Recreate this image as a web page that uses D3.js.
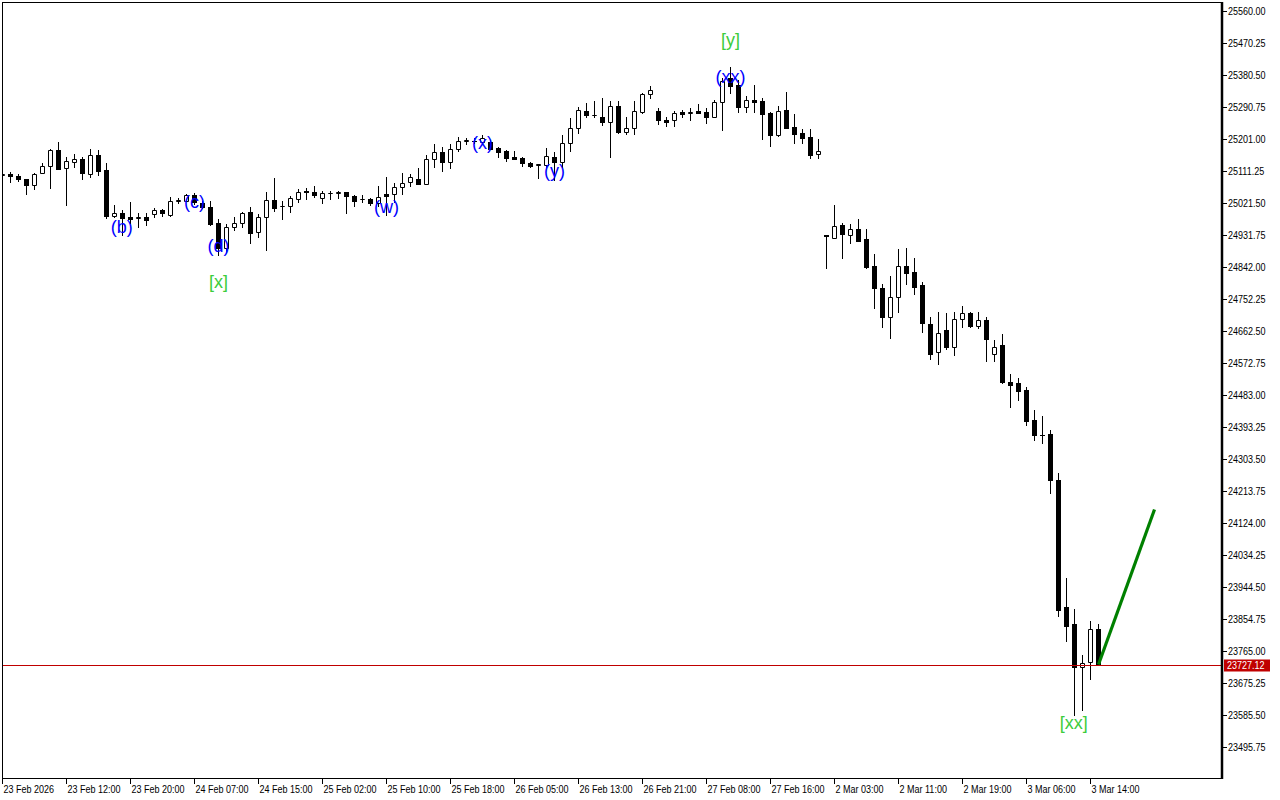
<!DOCTYPE html>
<html><head><meta charset="utf-8">
<script src="https://cdn.jsdelivr.net/npm/d3@7"></script>
<style>html,body{margin:0;padding:0;background:#fff;overflow:hidden}svg{display:block}</style>
</head><body>
<svg id="chart" width="1280" height="800"></svg>
<script>
// ---- data (hourly bars, 23 Feb 2026 .. 3 Mar 2026 15:00) ----
const open = [
25100,25103,25096.4,25088,25071,25106.5,25124.4,25170.1,25118.8,25137.3,
25144.1,25103.7,25156.1,25113.2,24984.2,24992.6,24982.2,24980.3,24982.2,24989.8,
25001,24988.7,25028,25028,25043.1,25020.7,25009.4,24964.6,24894.4,24955,
24964.6,24995.4,24939.3,24981.4,25029.9,25013.1,25013.1,25031.9,25056,25053.2,
25034.7,25048.7,25050.4,25051.5,25040.3,25032.7,25031.9,25020.7,25045.9,25046.7,
25066.4,25079.6,25088.8,25075.6,25144.1,25163.7,25137.3,25172.1,25196.2,25196.2,
25193.4,25193.4,25174.9,25167.3,25150.5,25147.7,25133.7,25128.9,25128.9,25149.7,
25137.3,25188.9,25231,25280.4,25267.5,25263.5,25249.5,25293.6,25221.5,25231,
25275.9,25326.4,25279.5,25254.3,25253.4,25275.9,25274.8,25279.5,25275.9,25263.5,
25303.9,25371.2,25352.5,25291.6,25309.5,25307.6,25274.8,25212.2,25282.3,25233.8,
25218.7,25206.6,25158.1,24931.8,24924.2,24959.8,24931.8,24948.6,24920.5,24844.8,
24782.3,24702.6,24757,24844.8,24827.1,24791.5,24682.1,24602.8,24665.3,24618.5,
24695.3,24712.1,24677.4,24693.3,24597.1,24623.2,24519.5,24515.8,24497,24412.9,
24372.2,24373.6,24244.6,23887.6,23840.7,23719.3,23733.3,23825.9];
const high = [
25106,25109.3,25102,25090,25106,25134.5,25173,25192.6,25151.4,25158.1,
25151.4,25172.1,25170.1,25132.8,25015,25001.9,25024.3,24992.6,24994.3,25006.6,
25005.5,25037.5,25034.7,25045.9,25050.4,25027.1,25027.1,24975.8,24961.8,24983.1,
24997.1,25009.4,24989.8,25052.4,25091.6,25027.1,25041.1,25059.9,25062.7,25069.2,
25054.3,25056,25055.2,25053,25043.1,25043.1,25034.7,25069.2,25094.4,25078.4,
25104.8,25102,25118.8,25156.1,25187,25177.7,25187,25207.5,25204.6,25203.8,
25211.4,25198.2,25177.7,25169,25167.3,25149.7,25135.6,25130.5,25174.9,25165.4,
25212.2,25259,25289.9,25301.1,25307.6,25315.2,25307.6,25307.6,25261.9,25307.6,
25329.2,25349.6,25287.1,25263.5,25279.5,25282.3,25287.1,25299.2,25287.1,25310.4,
25371.2,25403.8,25366.5,25322.4,25352.5,25315.2,25277.6,25294.4,25332,25270.3,
25229,25229,25201,24933,25015.9,24964.6,24961.8,24976.6,24948.6,24877.6,
24793.5,24816.8,24892.5,24896.1,24866.4,24799.1,24700.9,24714.9,24713.8,24714.9,
24732.6,24714.9,24716.6,24700.4,24637.3,24654.1,24541.9,24529.8,24504.6,24440.9,
24424.1,24384.8,24263.4,23968.9,23882,23753.8,23849.1,23840.7];
const low = [
25097,25081.2,25084,25045.9,25061.6,25105,25064.4,25116,25016.7,25123.3,
25089.6,25094.4,25100,24978.6,24981.4,24930.9,24966.2,24953.3,24960.6,24983.1,
24984.2,24985,25020.7,25026,25018.7,25007.5,24959.8,24875.7,24884.9,24945.8,
24953.3,24910.2,24927,24889.7,24998.2,24976.6,24996.3,25023.5,25033.6,25038.3,
25022.3,25033.6,25035.5,24994.3,25013.9,25023.5,25016.7,25013.1,24987.8,25025.1,
25046.7,25070,25073.9,25074,25123.3,25112.1,25120.5,25167.3,25187.8,25189.8,
25190.6,25173,25149.7,25140.1,25145,25126.1,25122.5,25092.5,25123.3,25086,
25123.3,25168.2,25218.7,25263.5,25263.5,25240.3,25151.4,25218.7,25215,25215,
25273.1,25316.8,25243.1,25238.3,25238.3,25263.5,25254.3,25273.5,25245,25262,
25226.2,25329.2,25275.9,25275.9,25275.9,25201,25182.2,25210.3,25231,25188.9,
25188.9,25148.6,25148.6,24838.4,24923,24868.1,24908.5,24915.8,24840,24726.2,
24672.9,24643.7,24716.6,24793.5,24767.1,24658.8,24583.1,24569.1,24612,24595.2,
24674.6,24674.6,24671.8,24579.2,24579.2,24517.5,24450.2,24469,24398.9,24356.8,
24349.2,24209,23863.2,23793.9,23585.5,23599.5,23687.3,23725];
const close = [
25103,25097.2,25088,25071.1,25104,25125.3,25170.1,25117.7,25138.5,25144.1,
25104.8,25156.1,25112.1,24985,24992.6,24980.3,24975.8,24981,24973,25001,
24992.6,25026.3,25029,25043.1,25025.1,25009.4,24962.6,24894.4,24955,24964.6,
24992.6,24938.2,24981.4,25029.9,25008.3,25014,25034.7,25052.4,25052.4,25043.1,
25048.7,25049.5,25051,25040.3,25028,25033.5,25020.7,25039.2,25040.3,25067.2,
25076.8,25093.6,25075.6,25144.1,25163.7,25137.3,25172.1,25196.2,25197,25196,
25204.6,25173.8,25165.4,25148.6,25145.7,25134.5,25125.3,25129.5,25152.5,25137.3,
25188.9,25231,25282.3,25269.2,25268,25249.5,25293.6,25221.5,25231,25279.5,
25327.2,25337.6,25253.4,25249.5,25273.1,25270.3,25275.5,25274.8,25263.5,25303.9,
25363.7,25350.5,25291.6,25309.5,25303.9,25272,25212.2,25279.5,25232.7,25215.9,
25204.6,25156.1,25167.3,24928.1,24957.8,24933.7,24948.6,24916,24842.8,24782.3,
24702.6,24757,24844.8,24826,24786.7,24684.1,24598.8,24656.9,24618.5,24695.3,
24712.1,24677.4,24692.5,24640.9,24618.5,24519,24510.2,24495.1,24410.9,24371.6,
24371,24244.6,23880,23836,23721,23730.5,23825.9,23727.12];

const xTickLabels = ["23 Feb 2026","23 Feb 12:00","23 Feb 20:00","24 Feb 07:00","24 Feb 15:00",
  "25 Feb 02:00","25 Feb 10:00","25 Feb 18:00","26 Feb 05:00","26 Feb 13:00","26 Feb 21:00",
  "27 Feb 08:00","27 Feb 16:00","2 Mar 03:00","2 Mar 11:00","2 Mar 19:00","3 Mar 06:00","3 Mar 14:00"];
const xTickBars = [0,8,16,24,32,40,48,56,64,72,80,88,96,104,112,120,128,136];

const yTickLabels = ["25560.00","25470.25","25380.50","25290.75","25201.00","25111.25","25021.50",
  "24931.75","24842.00","24752.25","24662.50","24572.75","24483.00","24393.25","24303.50",
  "24213.75","24124.00","24034.25","23944.50","23854.75","23765.00","23675.25","23585.50","23495.75"];

const waveText   = ["[y]","(xx)","(x)","(y)","(w)","(b)","(c)","(d)","[x]","[xx]"];
const waveBar    = [91, 91, 60, 69, 48, 14.9, 24, 27, 27, 133.9];
const wavePrice  = [25478, 25376, 25189, 25110, 25010, 24955, 25023, 24900, 24800, 23563];
const waveDegree = ["major","minor","minor","minor","minor","minor","minor","minor","major","major"];

const lastPrice = 23727.12;
const forecastBars = [137, 144];
const forecastPrices = [23727.12, 24162];

// ---- drawing ----
const svg = d3.select("#chart");
const L = 2, R = 1221, T = 2, B = 778;
const x = d3.scaleLinear().domain([0, 152]).range([2.5, 1218.5]);
const y = d3.scaleLinear().domain([23495.75, 25560]).range([747, 11]);
const axisFont = "'Liberation Sans',Arial,sans-serif";
const squeeze = 0.82;

function axisText(g, tx, ty, str, color) {
  return g.append("text")
    .attr("transform", `translate(${tx},${ty}) scale(${squeeze},1)`)
    .attr("dominant-baseline","central")
    .attr("font-family",axisFont).attr("font-size",11).attr("fill",color).text(str);
}

const plot = svg.append("g");
svg.append("defs").append("clipPath").attr("id","clip")
  .append("rect").attr("x",L).attr("y",T).attr("width",R-L).attr("height",B-T);
plot.attr("clip-path","url(#clip)");

const bars = d3.range(open.length);
const px = v => Math.round(y(v));

// wicks
plot.selectAll("line.wick").data(bars).enter().append("line")
  .attr("class","wick")
  .attr("x1", i => x(i)).attr("x2", i => x(i))
  .attr("y1", i => px(high[i]))
  .attr("y2", i => px(low[i]) + 1)
  .attr("stroke","#000").attr("stroke-width",1).attr("shape-rendering","crispEdges");

// bodies
plot.selectAll("path.body").data(bars).enter().append("path")
  .attr("class","body")
  .attr("d", i => {
    const cx = x(i);
    const top = px(Math.max(open[i], close[i]));
    const bot = px(Math.min(open[i], close[i]));
    if (close[i] >= open[i]) {
      const x0 = cx - 2, x1 = cx + 2;
      return `M${x0},${top+0.5}H${x1}V${bot+0.5}H${x0}Z`;
    } else {
      const x0 = cx - 2.5, x1 = cx + 2.5;
      return `M${x0},${top}H${x1}V${bot+1}H${x0}Z`;
    }
  })
  .attr("fill", i => close[i] >= open[i] ? "#fff" : "#000")
  .attr("stroke", i => close[i] >= open[i] ? "#000" : "none")
  .attr("stroke-width",1);

// current price line
const yp = px(lastPrice) + 0.5;
svg.append("line").attr("x1",L).attr("x2",R).attr("y1",yp).attr("y2",yp)
  .attr("stroke","#c00000").attr("stroke-width",1);

// forecast line
plot.append("line")
  .attr("x1", x(forecastBars[0])).attr("y1", y(forecastPrices[0]))
  .attr("x2", x(forecastBars[1])).attr("y2", y(forecastPrices[1]))
  .attr("stroke","#008000").attr("stroke-width",3.2).attr("stroke-linecap","butt");

// wave labels
const degColor = {major:"#3ccc3c", minor:"#0000ff"};
svg.selectAll("text.wave").data(waveText).enter().append("text")
  .attr("class","wave")
  .attr("x",(d,i)=>x(waveBar[i]))
  .attr("y",(d,i)=>y(wavePrice[i]))
  .attr("text-anchor","middle").attr("dominant-baseline","central")
  .attr("font-family","'Liberation Sans',Arial,sans-serif").attr("font-size",18)
  .attr("fill",(d,i)=>degColor[waveDegree[i]])
  .text(d=>d);

// frame
svg.append("rect").attr("x",L+0.5).attr("y",T+0.5).attr("width",R-L).attr("height",B-T)
  .attr("fill","none").attr("stroke","#000").attr("stroke-width",1);
svg.append("line").attr("x1",R+1).attr("x2",R+1).attr("y1",T).attr("y2",B+1)
  .attr("stroke","#000").attr("stroke-width",2.5);

// y axis ticks & labels
const yAxis = svg.append("g");
yTickLabels.forEach(t => {
  const v = +t, yy = px(v) + 0.5;
  yAxis.append("line").attr("x1",R+2).attr("x2",R+6).attr("y1",yy).attr("y2",yy)
    .attr("stroke","#000").attr("stroke-width",1);
  axisText(yAxis, R+7, yy, t, "#000");
});

// price tag
svg.append("rect").attr("x",R+3).attr("y",yp-6).attr("width",46).attr("height",12).attr("fill","#c00000");
axisText(svg, R+6, yp, lastPrice.toFixed(2), "#fff");

// x axis ticks & labels
const xAxis = svg.append("g");
xTickBars.forEach((b,k) => {
  const xx = Math.floor(x(b)) + 0.5;
  xAxis.append("line").attr("x1",xx).attr("x2",xx).attr("y1",B).attr("y2",B+6)
    .attr("stroke","#000").attr("stroke-width",1);
  axisText(xAxis, xx+1, B+11, xTickLabels[k], "#000");
});
</script>
</body></html>
